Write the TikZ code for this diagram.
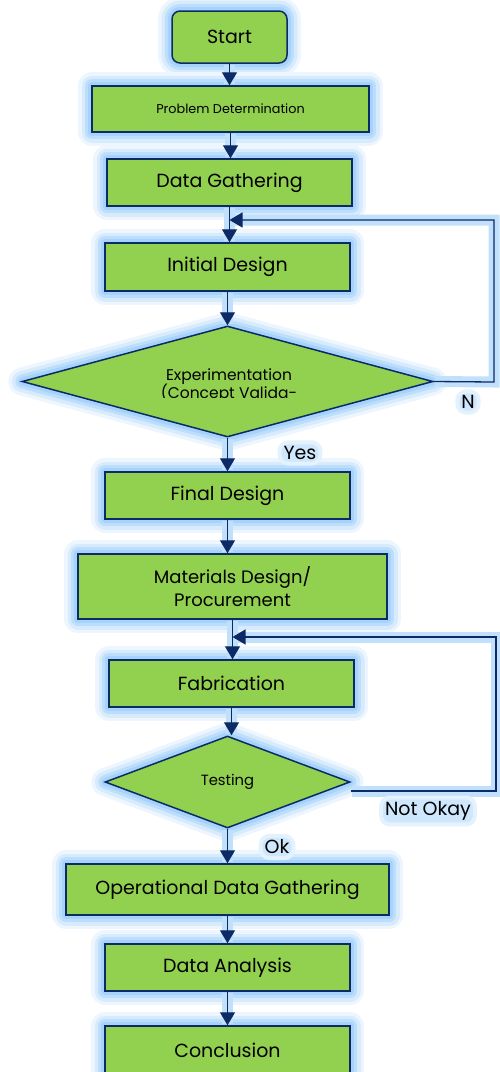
\documentclass[tikz,border=0pt]{standalone}
\usepackage{fontspec}
\setmainfont{Poppins}
\usetikzlibrary{shapes.geometric,arrows.meta}
\definecolor{boxgreen}{HTML}{92D050}
\definecolor{navy}{HTML}{0B2A66}
\definecolor{glowblue}{HTML}{A6D3FB}
\begin{document}
\begin{tikzpicture}[
        x=1pt, y=-1pt,
        glow/.style={preaction={draw=glowblue!20, line width=28pt, line join=round},
                     preaction={draw=glowblue!45, line width=21pt, line join=round},
                     preaction={draw=glowblue!75, line width=14pt, line join=round},
                     preaction={draw=glowblue, line width=8pt, line join=round}},
        box/.style={glow, rectangle, draw=navy, line width=1.5pt, fill=boxgreen,
                    minimum width=245pt, minimum height=47pt, inner sep=0pt,
                    font=\fontsize{19}{23}\selectfont},
        decision/.style={glow, diamond, draw=navy, line width=1.5pt, fill=boxgreen, inner sep=0pt},
        link/.style={draw=navy, line width=1.3pt, -{Triangle[length=13pt,width=15pt]},
                     preaction={draw=glowblue!70, line width=11pt, -, shorten <=1pt, shorten >=1pt}},
        tag/.style={fill=glowblue!55, rounded corners=7pt, inner sep=2pt,
                    preaction={draw=glowblue!30, line width=8pt},
                    font=\fontsize{19}{22}\selectfont}
    ]
    \useasboundingbox (0,0) rectangle (499,1072);

    \node[box, rounded corners=8pt, minimum width=115pt, minimum height=52pt] (start) at (229.5,37) {Start};
    \node[box, minimum width=277pt, minimum height=46pt, font=\fontsize{12.8}{15}\selectfont] (problem) at (230.5,109) {Problem Determination};
    \node[box] (gather) at (229.5,182.5) {Data Gathering};
    \node[box, minimum height=48pt] (initial) at (227.5,267) {Initial Design};
    \node[decision, minimum width=411pt, minimum height=111pt] (exper) at (227.5,381.5) {};
    \begin{scope}
        \clip (140,360) rectangle (320,397.5);
        \node[anchor=base, inner sep=0pt, font=\fontsize{15.5}{18}\selectfont] (exper-a) at (229,380) {Experimentation};
        \node[anchor=base, inner sep=0pt, font=\fontsize{15.5}{18}\selectfont] (exper-b) at (229,398) {(Concept Valida-};
    \end{scope}
    \node[box] (final) at (227.5,495.5) {Final Design};
    \node[box, minimum width=309pt, minimum height=65pt, align=center, font=\fontsize{18}{23}\selectfont] (material) at (232.5,586.5) {Materials Design/\\Procurement};
    \node[box] (fab) at (231.5,683.5) {Fabrication};
    \node[decision, minimum width=245pt, minimum height=92pt, font=\fontsize{14.8}{17}\selectfont] (test) at (227.5,782) {Testing};
    \node[box, minimum width=323pt, minimum height=51pt] (operation) at (227.5,889.5) {Operational Data Gathering};
    \node[box] (analysis) at (227.5,967.5) {Data Analysis};
    \node[box, minimum height=48pt] (conclusion) at (227.5,1050) {Conclusion};

    \coordinate (join1) at (gather.south |- 0,220);
    \coordinate (loop1) at (494,382);
    \coordinate (join2) at (material.south |- 0,637);
    \coordinate (loop2) at (496,791);

    \draw[link] (start.south) -- (start.south |- problem.north);
    \draw[link] (problem.south) -- (problem.south |- gather.north);
    \draw[link] (gather.south) -- (gather.south |- initial.north);
    \draw[link] (initial.south) -- (initial.south |- exper.north);
    \draw[link] (exper.south) -- (exper.south |- final.north);
    \draw[link] (final.south) -- (final.south |- material.north);
    \draw[link] (material.south) -- (material.south |- fab.north);
    \draw[link] (fab.south) -- (fab.south |- test.north);
    \draw[link] (test.south) -- (test.south |- operation.north);
    \draw[link] (operation.south) -- (operation.south |- analysis.north);
    \draw[link] (analysis.south) -- (analysis.south |- conclusion.north);
    \draw[link] (exper.east) -- (loop1) |- (join1);
    \draw[link] ([yshift=-9pt]test.east) -- (loop2) |- (join2);

    \node[tag] (yes) at (300,453) {Yes};
    \node[tag] (no) at (468,402) {N};
    \node[tag] (notok) at (428,811) {Not Okay};
    \node[tag] (ok) at (277,847) {Ok};
\end{tikzpicture}
\end{document}
